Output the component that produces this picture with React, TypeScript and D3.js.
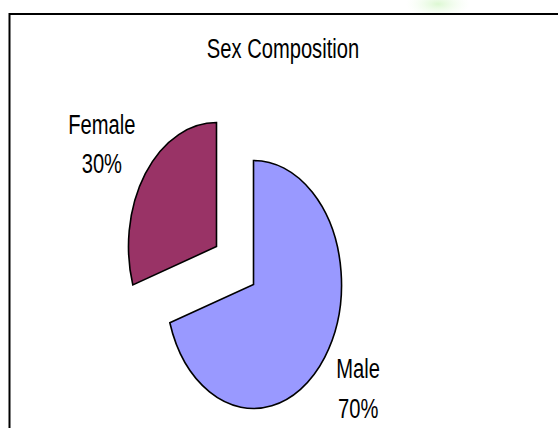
import React from "react";
import * as d3 from "d3";

const title = "Sex Composition";
const categories = ["Male", "Female"];
const values = [70, 30];
const colors = ["#9999FF", "#993366"];

const W = 558;
const H = 428;
const cx = 235;
const cy = 265.5;
const rx = 88;
const ry = 124;
const explode = 0.26;
const fontFamily = "'Liberation Sans', Arial, sans-serif";
const fontSize = 28;
const squeeze = 0.72;

export default function App() {
  const total = d3.sum(values);
  const pie = d3
    .pie<number>()
    .sort(null)
    .value((d) => d)
    .startAngle(0)
    .endAngle(2 * Math.PI);
  const arcs = pie(values);
  const arc = d3.arc<d3.PieArcDatum<number>>().innerRadius(0).outerRadius(1);

  return (
    <svg
      width={W}
      height={H}
      style={{ position: "absolute", left: 0, top: 0, background: "#fff" }}
    >
      <defs>
        <radialGradient id="wm" cx="50%" cy="50%" r="50%">
          <stop offset="0%" stopColor="#dcf8d2" stopOpacity={1} />
          <stop offset="100%" stopColor="#f2fdee" stopOpacity={0} />
        </radialGradient>
      </defs>
      <rect x={0} y={0} width={W} height={H} fill="#fff" />
      <ellipse cx={438} cy={4} rx={32} ry={14} fill="url(#wm)" />
      <rect
        x={9.5}
        y={14}
        width={W + 20}
        height={H + 20}
        fill="#fff"
        stroke="#000"
        strokeWidth={2}
      />
      <g
        transform={`translate(${283},58) scale(${squeeze},1)`}
        fontFamily={fontFamily}
        fontSize={fontSize}
      >
        <text textAnchor="middle" fill="#000">
          {title}
        </text>
      </g>
      {arcs.map((a, i) => {
        const mid = (a.startAngle + a.endAngle) / 2;
        const dx = Math.sin(mid);
        const dy = -Math.cos(mid);
        const ox = cx + dx * rx * explode;
        const oy = cy + dy * ry * explode;
        const lx = ox + dx * rx * 1.54 - 5;
        const ly = oy + dy * ry * 1.42;
        const pct = Math.round((values[i] / total) * 100);
        return (
          <g key={categories[i]}>
            <g transform={`translate(${ox},${oy}) scale(${rx},${ry})`}>
              <path
                d={arc(a) || ""}
                fill={colors[i]}
                stroke="#000"
                strokeWidth={1.6}
                strokeLinejoin="miter"
                vectorEffect="non-scaling-stroke"
              />
            </g>
            <g
              transform={`translate(${lx},${ly}) scale(${squeeze},1)`}
              fontFamily={fontFamily}
              fontSize={fontSize}
              fill="#000"
            >
              <text textAnchor="middle" y={-9.5}>
                {categories[i]}
              </text>
              <text textAnchor="middle" y={30}>
                {`${pct}%`}
              </text>
            </g>
          </g>
        );
      })}
    </svg>
  );
}
